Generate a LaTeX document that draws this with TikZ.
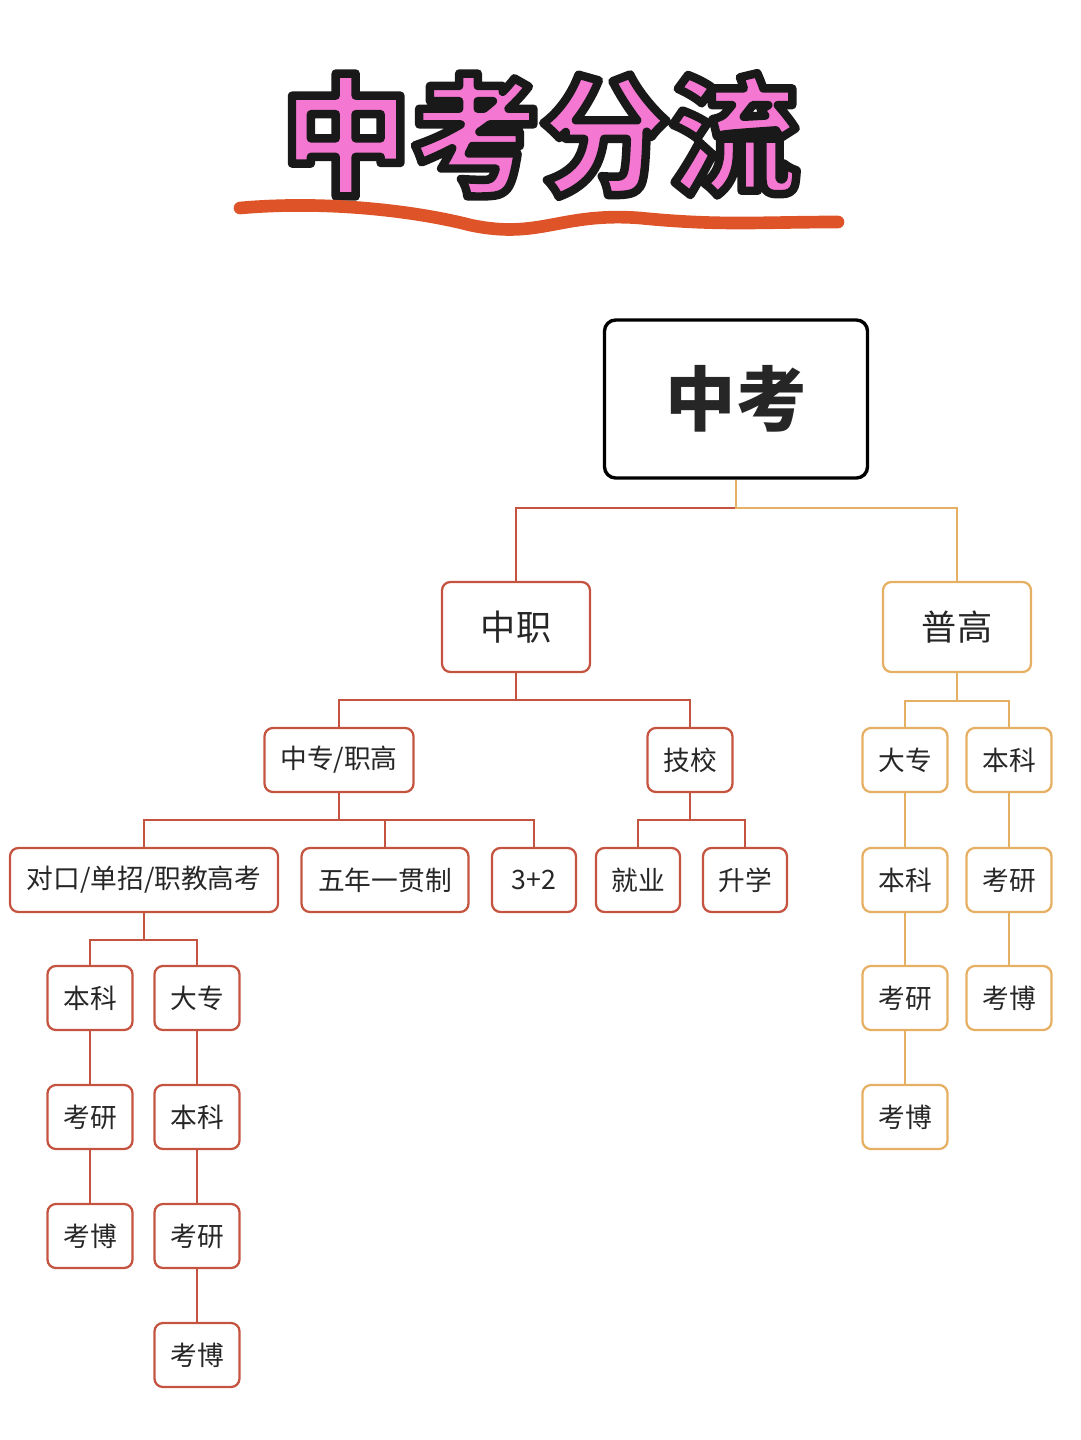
\documentclass[tikz,border=0pt]{standalone}
\usepackage{fontspec}
\newfontfamily\cjk{Noto Sans CJK SC}
\usepackage{tikz}
\usetikzlibrary{calc,positioning}
\definecolor{rojo}{RGB}{196, 84, 64}
\definecolor{naranja}{RGB}{230, 176, 100}
\definecolor{rosa}{RGB}{244, 120, 210}
\definecolor{raya}{RGB}{222, 84, 40}
\tikzstyle{box}  =[draw, rounded corners=6pt, line width=1.6pt,
                   align=center, inner sep=0pt, font=\cjk\fontsize{19}{19}\selectfont,
                   minimum height=1.6cm, text=black!85]
\tikzstyle{rbox} =[box, draw=rojo]
\tikzstyle{obox} =[box, draw=naranja]
\tikzstyle{redge}=[rojo, line width=1.6pt]
\tikzstyle{oedge}=[naranja, line width=1.6pt]
\begin{document}
\begin{tikzpicture}[x=0.025cm,y=-0.025cm]
    \useasboundingbox (0,0) rectangle (1080,1440);

        % title
        \node (title) [font=\cjk\bfseries\fontsize{92}{92}\selectfont, text=rosa] at (540,135)
            {\special{pdf:literal 2 Tr 6 w 1 j 0.1 0.1 0.1 RG}中考分流\special{pdf:literal 0 Tr}};
        \draw[raya, line width=9pt, line cap=round] (240,208) .. controls (330,200) and (420,212) .. (470,225)
            .. controls (540,240) and (560,212) .. (640,218) .. controls (720,226) and (760,222) .. (838,222);

        % nodes
        \draw (736,399) node (zk) [box, line width=2.4pt, draw=black, rounded corners=8pt,
              minimum width=6.575cm, minimum height=3.95cm,
              font=\cjk\bfseries\fontsize{50}{50}\selectfont] {中考};
        \draw (516,627) node (zz) [rbox, minimum width=3.7cm, minimum height=2.25cm, font=\cjk\fontsize{25}{25}\selectfont] {中职};
        \draw (957,627) node (pg) [obox, minimum width=3.7cm, minimum height=2.25cm, font=\cjk\fontsize{25}{25}\selectfont] {普高};

        \draw (339,760) node (zg) [rbox, minimum width=3.725cm] {中专/职高};
        \draw (690,760) node (jx) [rbox, minimum width=2.125cm] {技校};
        \draw (144,880) node (dk) [rbox, minimum width=6.7cm] {对口/单招/职教高考};
        \draw (385,880) node (wn) [rbox, minimum width=4.175cm] {五年一贯制};
        \draw (534,880) node (sj) [rbox, minimum width=2.1cm] {3+2};
        \draw (638,880) node (jy) [rbox, minimum width=2.1cm] {就业};
        \draw (745,880) node (sx) [rbox, minimum width=2.1cm] {升学};

        \draw (90,998)  node (a1) [rbox, minimum width=2.125cm] {本科};
        \draw (90,1117) node (a2) [rbox, minimum width=2.125cm] {考研};
        \draw (90,1236) node (a3) [rbox, minimum width=2.125cm] {考博};
        \draw (197,998)  node (b1) [rbox, minimum width=2.125cm] {大专};
        \draw (197,1117) node (b2) [rbox, minimum width=2.125cm] {本科};
        \draw (197,1236) node (b3) [rbox, minimum width=2.125cm] {考研};
        \draw (197,1355) node (b4) [rbox, minimum width=2.125cm] {考博};

        \draw (905,760)  node (c1) [obox, minimum width=2.125cm] {大专};
        \draw (905,880)  node (c2) [obox, minimum width=2.125cm] {本科};
        \draw (905,998)  node (c3) [obox, minimum width=2.125cm] {考研};
        \draw (905,1117) node (c4) [obox, minimum width=2.125cm] {考博};
        \draw (1009,760) node (d1) [obox, minimum width=2.125cm] {本科};
        \draw (1009,880) node (d2) [obox, minimum width=2.125cm] {考研};
        \draw (1009,998) node (d3) [obox, minimum width=2.125cm] {考博};

        % edges
        \draw [redge] (zk.south) -- ++(0,28) -| (zz.north);
        \draw [oedge] (zk.south) -- ++(0,28) -| (pg.north);
        \foreach \i/\j in {zz/zg,zz/jx,zg/dk,zg/wn,zg/sj,jx/jy,jx/sx,dk/a1,dk/b1}
            \draw [redge] (\i.south) -- ++(0,27) -| (\j.north);
        \foreach \i/\j in {a1/a2,a2/a3,b1/b2,b2/b3,b3/b4}
            \draw [redge] (\i) -- (\j);
        \foreach \i/\j in {pg/c1,pg/d1}
            \draw [oedge] (\i.south) -- ++(0,28) -| (\j.north);
        \foreach \i/\j in {c1/c2,c2/c3,c3/c4,d1/d2,d2/d3}
            \draw [oedge] (\i) -- (\j);

    \end{tikzpicture}
\end{document}
